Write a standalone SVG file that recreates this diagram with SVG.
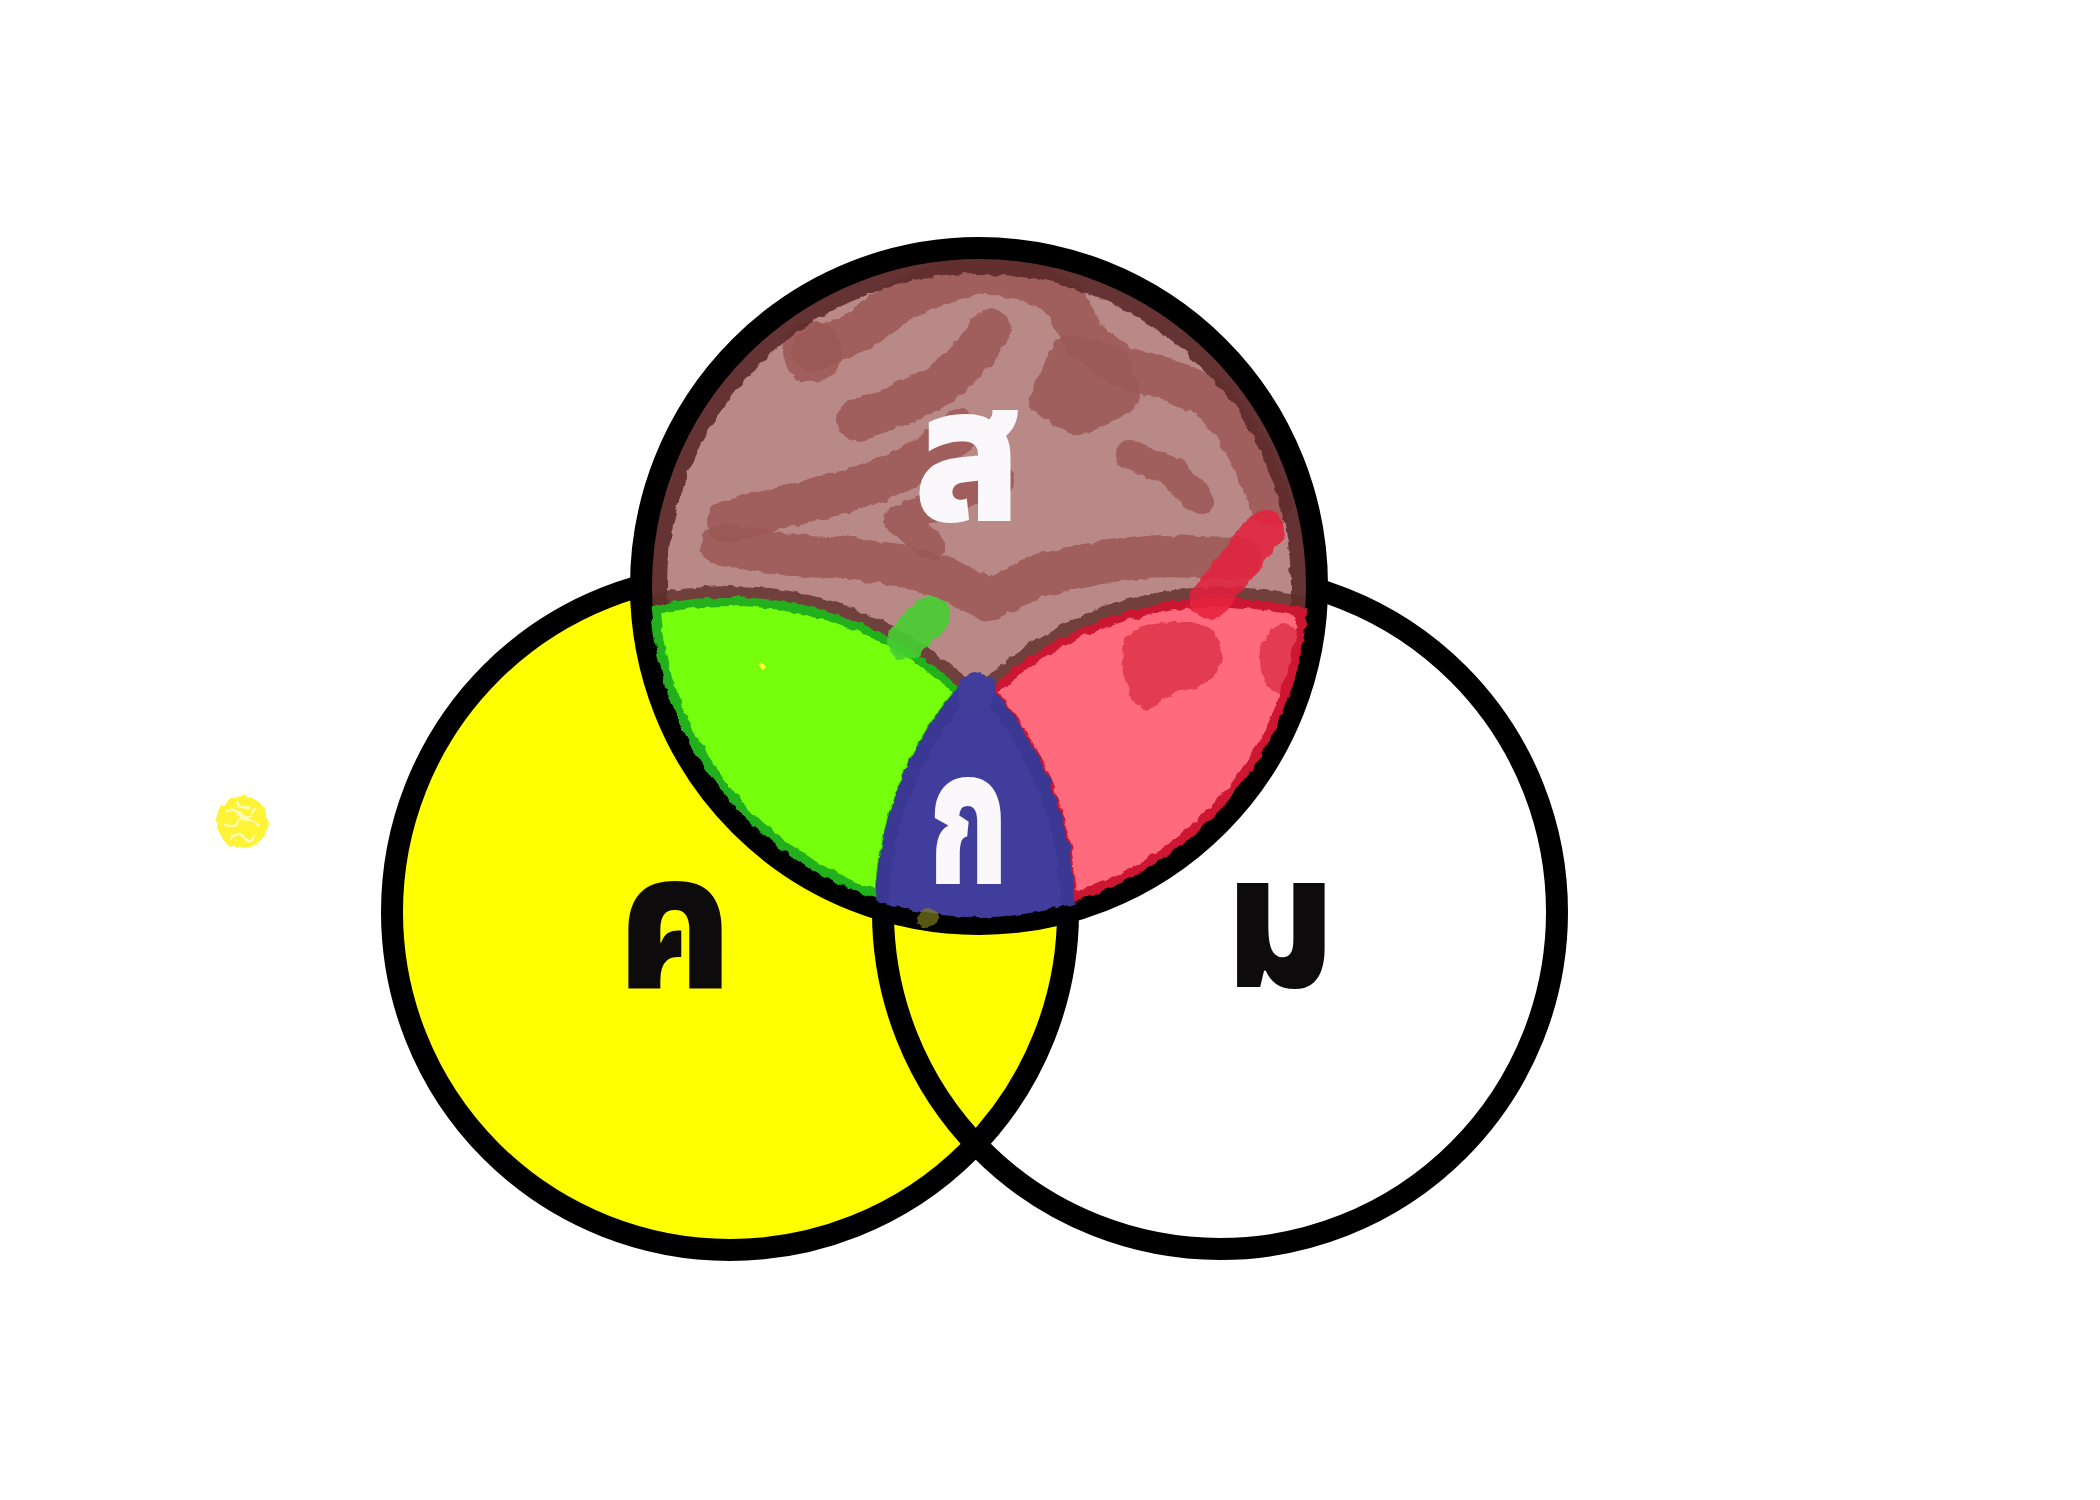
<svg xmlns="http://www.w3.org/2000/svg" width="2100" height="1500" viewBox="0 0 2100 1500">
<defs>
  <style>
    .ring{fill:none;stroke:#000;stroke-width:22}
    .lbl{font-family:"Noto Sans Thai","Noto Sans","DejaVu Sans",sans-serif;font-weight:900;text-anchor:middle}
    .sq{fill:none;stroke:#9c5755;stroke-width:42;stroke-linecap:round;stroke-linejoin:round;opacity:0.85}
  </style>
  <filter id="rough" filterUnits="userSpaceOnUse" x="0" y="0" width="2100" height="1500">
    <feTurbulence type="fractalNoise" baseFrequency="0.09" numOctaves="2" seed="3"/>
    <feDisplacementMap in="SourceGraphic" scale="7" xChannelSelector="R" yChannelSelector="G"/>
  </filter>
  <clipPath id="topClip"><circle cx="979" cy="586" r="329"/></clipPath>
  <clipPath id="topClipFull"><circle cx="979" cy="586" r="336"/></clipPath>
  <clipPath id="blueClip"><circle cx="979" cy="586" r="331"/></clipPath>
  <mask id="greenMask" maskUnits="userSpaceOnUse" x="0" y="0" width="2100" height="1500">
    <circle cx="730" cy="935" r="338" fill="#fff"/>
    <circle cx="1220" cy="912" r="337" fill="#000"/>
  </mask>
  <mask id="redMask" maskUnits="userSpaceOnUse" x="0" y="0" width="2100" height="1500">
    <circle cx="1220" cy="935" r="337" fill="#fff"/>
    <circle cx="730" cy="912" r="338" fill="#000"/>
  </mask>
</defs>
<rect width="2100" height="1500" fill="#fff"/>

<g id="circle-right-fill"><circle cx="1220" cy="912" r="337" fill="#fff"/></g>
<g id="circle-left-fill"><circle cx="730" cy="912" r="338" fill="#ffff00"/></g>

<g id="yellow-dot" filter="url(#rough)">
  <circle cx="242" cy="822" r="26" fill="#fff337"/>
  <path d="M226,812 q8,-6 14,2 t14,-4 M223,826 q10,4 16,-4 t18,2 M232,838 q6,-8 12,0 t10,-2 M236,801 q4,8 12,6" fill="none" stroke="#fffbb8" stroke-width="2.5" stroke-linecap="round"/>
</g>

<g id="strokes-lr">
  <circle class="ring" cx="1220" cy="912" r="337"/>
  <circle class="ring" cx="730" cy="912" r="338"/>
</g>

<g id="node-top">
  <circle cx="979" cy="586" r="336" fill="#b98987"/>
  <g clip-path="url(#topClipFull)" filter="url(#rough)">
    <path class="sq" d="M813,350 L860,330 L900,300 L940,283 L980,272 L1030,280 L1065,300 L1085,340 L1120,366 L1170,380 L1210,397 L1235,428 L1255,465 L1272,505"/>
    <circle cx="812" cy="352" r="30" fill="#9c5755" opacity="0.85"/>
    <path class="sq" d="M857,420 L900,405 L940,385 L968,360 L990,330"/>
    <path class="sq" d="M1070,355 L1110,365 L1120,395 L1080,415 L1050,400 Z" style="stroke-width:40;fill:#9c5755"/>
    <path class="sq" d="M727,522 L790,505 L850,490 L895,475 L930,455 L960,430"/>
    <path class="sq" d="M722,545 L790,555 L845,558 L900,565 L945,578 L988,600 L1040,575 L1100,562 L1160,556 L1240,558"/>
    <path class="sq" d="M930,545 L900,520 L950,500 L1000,480" style="stroke-width:30"/>
    <path class="sq" d="M1130,455 L1170,470 L1200,500" style="stroke-width:30"/>
  </g>
  <circle cx="979" cy="586" r="321" fill="none" stroke="#5c2b2a" stroke-width="18" opacity="0.9" filter="url(#rough)"/>
</g>

<g id="paint-arcs" fill="none" stroke="#5e2d2c" stroke-width="22" opacity="0.8" clip-path="url(#topClip)" filter="url(#rough)">
  <circle cx="730" cy="935" r="338"/>
  <circle cx="1220" cy="935" r="337"/>
</g>

<g id="top-ring"><circle class="ring" cx="979" cy="586" r="338"/></g>

<g id="node-green" filter="url(#rough)">
  <g clip-path="url(#topClip)">
    <g mask="url(#greenMask)">
      <rect x="600" y="560" width="420" height="380" fill="#74ff0a"/>
      <g fill="none" stroke="#23b01c" stroke-width="18">
        <circle cx="730" cy="935" r="338"/>
        <circle cx="1220" cy="912" r="337"/>
        <circle cx="979" cy="586" r="329"/>
      </g>
    </g>
  </g>
  <path d="M907,640 L930,616" stroke="#46cf32" stroke-width="40" stroke-linecap="round" opacity="0.9"/>
  <circle cx="763" cy="666" r="2.5" fill="#ffff40"/>
</g>

<g id="node-red" filter="url(#rough)">
  <g clip-path="url(#topClip)">
    <g mask="url(#redMask)">
      <rect x="950" y="560" width="400" height="380" fill="#ff6b7b"/>
      <g fill="#e0364c" opacity="0.9">
        <path d="M1125,640 Q1140,620 1190,622 Q1225,628 1222,660 Q1215,690 1180,690 Q1160,700 1148,710 Q1130,706 1128,690 Q1118,665 1125,640 Z"/>
        <ellipse cx="1284" cy="660" rx="24" ry="36"/>
      </g>
      <g fill="none" stroke="#cc1530" stroke-width="18">
        <circle cx="1220" cy="935" r="337"/>
        <circle cx="730" cy="912" r="338"/>
        <circle cx="979" cy="586" r="329"/>
      </g>
    </g>
  </g>
  <path d="M1264,530 L1210,600" stroke="#e6223c" stroke-width="40" stroke-linecap="round" opacity="0.85"/>
</g>

<g id="node-blue" filter="url(#rough)">
  <g clip-path="url(#blueClip)">
    <path d="M975,679 A337,337 0 0 0 882,910 A338,338 0 0 0 1068,912 A338,338 0 0 0 975,679 Z" fill="#403d9c" stroke="#3b3794" stroke-width="14" stroke-linejoin="round"/>
  </g>
  <circle cx="977" cy="692" r="19" fill="#3f3c9b"/>
  <circle cx="928" cy="918" r="10" fill="#7e7a20" opacity="0.7"/>
</g>

<g id="labels">
  <text class="lbl" x="968" y="521" font-size="190" fill="#faf8fa" textLength="107" lengthAdjust="spacingAndGlyphs">ส</text>
  <text class="lbl" x="968" y="884" font-size="190" fill="#faf8fa" textLength="80" lengthAdjust="spacingAndGlyphs">ก</text>
  <text class="lbl" x="675" y="988" font-size="190" fill="#0d0b0c" textLength="113" lengthAdjust="spacingAndGlyphs">ค</text>
  <text class="lbl" x="1280" y="987" font-size="190" fill="#0d0b0c" textLength="108" lengthAdjust="spacingAndGlyphs">ม</text>
</g>
</svg>
